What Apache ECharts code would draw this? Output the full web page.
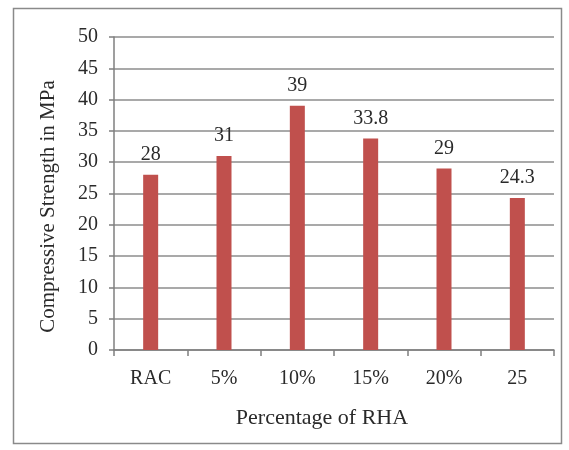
<!DOCTYPE html>
<html>
<head>
<meta charset="utf-8">
<script src="https://cdn.jsdelivr.net/npm/echarts@6/dist/echarts.min.js"></script>
<style>
  html, body { margin: 0; padding: 0; background: #fff; }
  #chart { width: 569px; height: 450px; }
</style>
</head>
<body>
<div id="chart"></div>
<script>
// Compressive strength by rice husk ash replacement level
const categories = ['RAC', '5%', '10%', '15%', '20%', '25'];
const strength = [28, 31, 39, 33.8, 29, 24.3];
const yMin = 0, yMax = 50, yStep = 5;

const FONT = '"Liberation Serif", "DejaVu Serif", serif';
const chart = echarts.init(document.getElementById('chart'), null, { renderer: 'canvas' });

chart.setOption({
  animation: false,
  backgroundColor: '#ffffff',
  graphic: [{
    type: 'rect',
    shape: { x: 13.5, y: 8.5, width: 548, height: 435 },
    style: { fill: 'none', stroke: '#8a8a8a', lineWidth: 1.5 },
    silent: true
  }],
  grid: { left: 114, right: 15, top: 37, bottom: 100, containLabel: false },
  xAxis: {
    type: 'category',
    data: categories,
    name: 'Percentage of RHA',
    nameLocation: 'middle',
    nameGap: 57,
    nameTextStyle: { fontFamily: FONT, fontSize: 22, color: '#2a2a2a', padding: [0, 24, 0, 0] },
    axisLine: { lineStyle: { color: '#7f7f7f', width: 1.5 } },
    axisTick: { show: true, alignWithLabel: false, length: 6, lineStyle: { color: '#7f7f7f', width: 1.5 } },
    axisLabel: { fontFamily: FONT, fontSize: 20, color: '#2a2a2a', margin: 19 }
  },
  yAxis: {
    type: 'value',
    min: yMin, max: yMax, interval: yStep,
    name: 'Compressive Strength in MPa',
    nameLocation: 'middle',
    nameGap: 55,
    nameRotate: 90,
    nameTextStyle: { fontFamily: FONT, fontSize: 21, color: '#2a2a2a', padding: [0, 26, 0, 0] },
    axisLine: { show: true, lineStyle: { color: '#7f7f7f', width: 1.5 } },
    axisTick: { show: true, length: 5, inside: false, lineStyle: { color: '#7f7f7f', width: 1.5 } },
    axisLabel: { fontFamily: FONT, fontSize: 20, color: '#2a2a2a', margin: 16 },
    splitLine: { show: true, lineStyle: { color: '#8c8c8c', width: 1.5 } }
  },
  series: [{
    type: 'bar',
    data: strength,
    barWidth: 15,
    itemStyle: { color: '#c0504d' },
    label: {
      show: true,
      position: 'top',
      distance: 10,
      fontFamily: FONT,
      fontSize: 20,
      color: '#2a2a2a'
    }
  }]
});
</script>
</body>
</html>
